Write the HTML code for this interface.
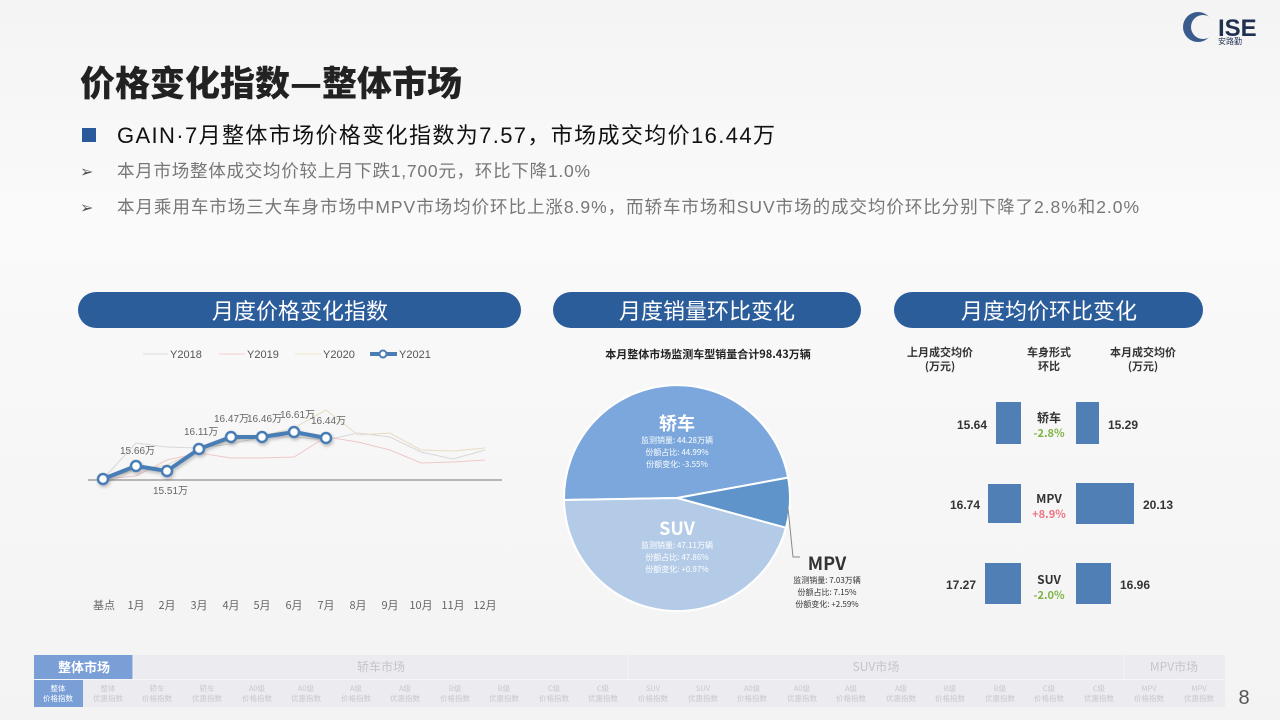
<!DOCTYPE html>
<html><head><meta charset="utf-8">
<style>
html,body{margin:0;padding:0;}
body{width:1280px;height:720px;overflow:hidden;background:linear-gradient(180deg,#f4f4f4 0%,#fafafa 30%,#f3f3f3 100%);font-family:"Liberation Sans","Noto Sans CJK SC",sans-serif;position:relative;}
</style></head><body>
<svg width="1280" height="720" style="position:absolute;left:0;top:0" font-family="Liberation Sans, Noto Sans CJK SC, sans-serif">
<defs>
<filter id="sh" x="-20%" y="-20%" width="140%" height="140%"><feDropShadow dx="1" dy="2" stdDeviation="1.5" flood-color="#000" flood-opacity="0.25"/></filter>
</defs>
<circle cx="1198" cy="27" r="15" fill="#3a5c8c"/>
<circle cx="1203" cy="27" r="12" fill="#f4f4f4"/>
<text x="1218" y="36" font-size="24" font-weight="bold" fill="#1f3050">ISE</text>
<text x="1218" y="44" font-size="8" fill="#1f3050" font-family="Noto Sans CJK SC, sans-serif">安路勤</text>
<text x="80" y="96" font-size="35" font-weight="900" fill="#222" font-family="Noto Sans CJK SC, sans-serif">价格变化指数—整体市场</text>
<rect x="82" y="128" width="14" height="14" fill="#2b5a9c"/>
<text x="117" y="143" font-size="22" fill="#111" textLength="658">GAIN·7月整体市场价格变化指数为7.57，市场成交均价16.44万</text>
<text x="80" y="177" font-size="16" fill="#555">➢</text>
<text x="117" y="177" font-size="17.5" fill="#777" textLength="473">本月市场整体成交均价较上月下跌1,700元，环比下降1.0%</text>
<text x="80" y="213" font-size="16" fill="#555">➢</text>
<text x="117" y="213" font-size="17.5" fill="#777" textLength="1022">本月乘用车市场三大车身市场中MPV市场均价环比上涨8.9%，而轿车市场和SUV市场的成交均价环比分别下降了2.8%和2.0%</text>
<rect x="78" y="292" width="443" height="36" rx="18" fill="#2c5d9b"/>
<text x="300" y="319" font-size="22" fill="#fff" text-anchor="middle" font-family="Noto Sans CJK SC, sans-serif">月度价格变化指数</text>
<rect x="553" y="292" width="308" height="36" rx="18" fill="#2c5d9b"/>
<text x="707" y="319" font-size="22" fill="#fff" text-anchor="middle" font-family="Noto Sans CJK SC, sans-serif">月度销量环比变化</text>
<rect x="894" y="292" width="309" height="36" rx="18" fill="#2c5d9b"/>
<text x="1049" y="319" font-size="22" fill="#fff" text-anchor="middle" font-family="Noto Sans CJK SC, sans-serif">月度均价环比变化</text>

<g font-size="11" fill="#555">
<line x1="143" y1="354" x2="168" y2="354" stroke="#ddd"/><text x="170" y="358">Y2018</text>
<line x1="219" y1="354" x2="245" y2="354" stroke="#f3cccc"/><text x="247" y="358">Y2019</text>
<line x1="295" y1="354" x2="321" y2="354" stroke="#eee3cc"/><text x="323" y="358">Y2020</text>
<line x1="370" y1="354" x2="397" y2="354" stroke="#4b7db5" stroke-width="4"/><circle cx="383" cy="354" r="3.5" fill="#fff" stroke="#4b7db5" stroke-width="2"/><text x="399" y="358">Y2021</text>
</g>
<polyline points="103,479 136,443 167,447 199,448 231,444 262,437 294,437 326,440 358,433 390,437 421,452 453,459 485,450" fill="none" stroke="#d8d8d8" stroke-width="1"/>
<polyline points="103,479 136,476 167,460 199,453 231,458 262,458 294,457 326,437 358,442 390,450 421,463 453,462 485,460" fill="none" stroke="#f0c8c8" stroke-width="1"/>
<polyline points="103,479 136,470 167,465 199,450 231,440 262,436 294,428 326,410 358,435 390,433 421,450 453,451 485,448" fill="none" stroke="#e8dcc4" stroke-width="1"/>
<line x1="88" y1="480" x2="502" y2="480" stroke="#777" stroke-width="1"/>
<g filter="url(#sh)">
<polyline points="103,479 136,466 167,471 199,449 231,437 262,437 294,432 326,438" fill="none" stroke="#4a7db5" stroke-width="4" stroke-linejoin="round"/>
<g fill="#fff" stroke="#4a7db5" stroke-width="2.5">
<circle cx="103" cy="479" r="5"/><circle cx="136" cy="466" r="5"/><circle cx="167" cy="471" r="5"/><circle cx="199" cy="449" r="5"/><circle cx="231" cy="437" r="5"/><circle cx="262" cy="437" r="5"/><circle cx="294" cy="432" r="5"/><circle cx="326" cy="438" r="5"/>
</g></g>
<g font-size="10" fill="#666">
<text x="120" y="454">15.66万</text>
<text x="153" y="494">15.51万</text>
<text x="184" y="435">16.11万</text>
<text x="214" y="422">16.47万</text>
<text x="247" y="422">16.46万</text>
<text x="280" y="418">16.61万</text>
<text x="311" y="424">16.44万</text>
</g>
<g font-size="11" fill="#666" text-anchor="middle" font-family="Noto Sans CJK SC, sans-serif">
<text x="104" y="609">基点</text><text x="136" y="609">1月</text><text x="167" y="609">2月</text><text x="199" y="609">3月</text><text x="231" y="609">4月</text><text x="262" y="609">5月</text><text x="294" y="609">6月</text><text x="326" y="609">7月</text><text x="358" y="609">8月</text><text x="390" y="609">9月</text><text x="421" y="609">10月</text><text x="453" y="609">11月</text><text x="485" y="609">12月</text>
</g>

<text x="708" y="358" font-size="11" font-weight="bold" fill="#222" text-anchor="middle" font-family="Noto Sans CJK SC, sans-serif">本月整体市场监测车型销量合计98.43万辆</text>
<g stroke="#fff" stroke-width="2">
<path d="M677,498 L564,500 A113,113 0 0 1 788.1,477.6 Z" fill="#7ba7dc"/>
<path d="M677,498 L788.1,477.6 A113,113 0 0 1 786,527.8 Z" fill="#5f94cb"/>
<path d="M677,498 L786,527.8 A113,113 0 0 1 564,500 Z" fill="#b4cbe8"/>
</g>
<polyline points="788,508 793,557 800,557" fill="none" stroke="#888"/>
<g fill="#fff" text-anchor="middle" font-family="Noto Sans CJK SC, sans-serif">
<text x="677" y="430" font-size="18" font-weight="bold">轿车</text>
<text x="677" y="443" font-size="8">监测销量: 44.28万辆</text>
<text x="677" y="455" font-size="8">份额占比: 44.99%</text>
<text x="677" y="467" font-size="8">份额变化: -3.55%</text>
<text x="677" y="535" font-size="18" font-weight="bold">SUV</text>
<text x="677" y="548" font-size="8">监测销量: 47.11万辆</text>
<text x="677" y="560" font-size="8">份额占比: 47.86%</text>
<text x="677" y="572" font-size="8">份额变化: +0.97%</text>
</g>
<g fill="#333" text-anchor="middle" font-family="Noto Sans CJK SC, sans-serif">
<text x="827" y="570" font-size="18" font-weight="bold">MPV</text>
<text x="827" y="583" font-size="8">监测销量: 7.03万辆</text>
<text x="827" y="595" font-size="8">份额占比: 7.15%</text>
<text x="827" y="607" font-size="8">份额变化: +2.59%</text>
</g>

<g font-size="11" font-weight="bold" fill="#333" text-anchor="middle" font-family="Noto Sans CJK SC, sans-serif">
<text x="940" y="356">上月成交均价</text><text x="940" y="370">(万元)</text>
<text x="1049" y="356">车身形式</text><text x="1049" y="370">环比</text>
<text x="1143" y="356">本月成交均价</text><text x="1143" y="370">(万元)</text>
</g>
<g fill="#4f7fb5">
<rect x="996" y="402" width="25" height="42"/><rect x="1076" y="402" width="23" height="42"/>
<rect x="988" y="484" width="33" height="39"/><rect x="1076" y="483" width="58" height="41"/>
<rect x="985" y="563" width="36" height="41"/><rect x="1076" y="563" width="35" height="41"/>
</g>
<g font-size="12" font-weight="bold" fill="#333">
<text x="987" y="429" text-anchor="end">15.64</text><text x="1108" y="429">15.29</text>
<text x="980" y="509" text-anchor="end">16.74</text><text x="1143" y="509">20.13</text>
<text x="976" y="589" text-anchor="end">17.27</text><text x="1120" y="589">16.96</text>
</g>
<g text-anchor="middle" font-size="12" font-family="Noto Sans CJK SC, sans-serif">
<text x="1049" y="422" fill="#333" font-weight="bold">轿车</text><text x="1049" y="437" font-size="11" fill="#7cb342" font-weight="bold">-2.8%</text>
<text x="1049" y="503" fill="#333" font-weight="bold">MPV</text><text x="1049" y="518" font-size="11" fill="#f07080" font-weight="bold">+8.9%</text>
<text x="1049" y="584" fill="#333" font-weight="bold">SUV</text><text x="1049" y="599" font-size="11" fill="#7cb342" font-weight="bold">-2.0%</text>
</g>

<rect x="34" y="655" width="1191" height="52" fill="#ebebf0"/>
<rect x="34" y="655" width="99" height="24" fill="#7a9fd6"/>
<rect x="34" y="680" width="49" height="27" fill="#7a9fd6"/>
<g stroke="#f6f6f8" stroke-width="1">
<line x1="34" y1="679.5" x2="1225" y2="679.5"/>
<line x1="133" y1="655" x2="133" y2="679"/><line x1="628" y1="655" x2="628" y2="679"/><line x1="1124" y1="655" x2="1124" y2="679"/>
</g>
<text x="84" y="672" font-size="13" fill="#fff" font-weight="bold" text-anchor="middle" font-family="Noto Sans CJK SC, sans-serif">整体市场</text>
<g font-size="12" fill="#c4c4cc" text-anchor="middle" font-family="Noto Sans CJK SC, sans-serif">
<text x="381" y="671">轿车市场</text><text x="876" y="671">SUV市场</text><text x="1174" y="671">MPV市场</text>
</g>
<g font-size="7.5" fill="#c8c8d0" text-anchor="middle" font-family="Noto Sans CJK SC, sans-serif">
<text x="58" y="691" fill="#fff">整体</text><text x="58" y="701" fill="#fff">价格指数</text>
<text x="108" y="691">整体</text><text x="108" y="701">优惠指数</text>
<text x="157" y="691">轿车</text><text x="157" y="701">价格指数</text>
<text x="207" y="691">轿车</text><text x="207" y="701">优惠指数</text>
<text x="257" y="691">A0级</text><text x="257" y="701">价格指数</text>
<text x="306" y="691">A0级</text><text x="306" y="701">优惠指数</text>
<text x="356" y="691">A级</text><text x="356" y="701">价格指数</text>
<text x="405" y="691">A级</text><text x="405" y="701">优惠指数</text>
<text x="455" y="691">B级</text><text x="455" y="701">价格指数</text>
<text x="504" y="691">B级</text><text x="504" y="701">优惠指数</text>
<text x="554" y="691">C级</text><text x="554" y="701">价格指数</text>
<text x="603" y="691">C级</text><text x="603" y="701">优惠指数</text>
<text x="653" y="691">SUV</text><text x="653" y="701">价格指数</text>
<text x="703" y="691">SUV</text><text x="703" y="701">优惠指数</text>
<text x="752" y="691">A0级</text><text x="752" y="701">价格指数</text>
<text x="802" y="691">A0级</text><text x="802" y="701">优惠指数</text>
<text x="851" y="691">A级</text><text x="851" y="701">价格指数</text>
<text x="901" y="691">A级</text><text x="901" y="701">优惠指数</text>
<text x="950" y="691">B级</text><text x="950" y="701">价格指数</text>
<text x="1000" y="691">B级</text><text x="1000" y="701">优惠指数</text>
<text x="1049" y="691">C级</text><text x="1049" y="701">价格指数</text>
<text x="1099" y="691">C级</text><text x="1099" y="701">优惠指数</text>
<text x="1149" y="691">MPV</text><text x="1149" y="701">价格指数</text>
<text x="1199" y="691">MPV</text><text x="1199" y="701">优惠指数</text>
</g>
<text x="1244" y="704" font-size="20" fill="#555" text-anchor="middle">8</text>
</svg>
</body></html>
